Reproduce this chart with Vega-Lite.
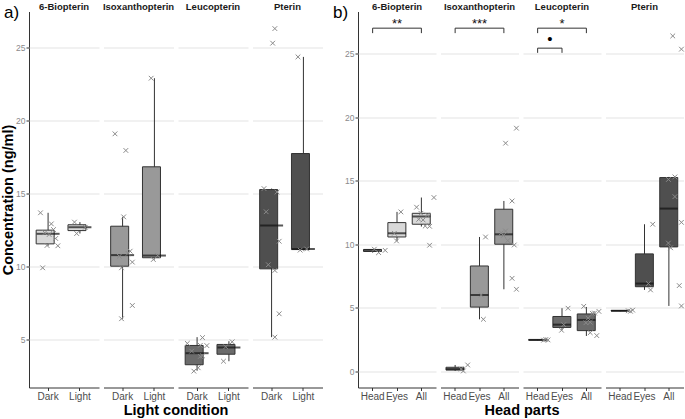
{
  "$schema": "https://vega.github.io/schema/vega-lite/v6.json",
  "padding": {"left": 0, "top": 1.5, "right": 1, "bottom": 0},
  "spacing": 10,
  "config": {
    "font": "Liberation Sans",
    "view": {"stroke": null},
    "axis": {
      "domainColor": "#333333", "domainWidth": 1, "tickColor": "#333333", "tickSize": 3,
      "gridColor": "#e3e3e3", "gridWidth": 1, "labelFont": "Liberation Sans",
      "titleFont": "Liberation Sans", "titleFontWeight": "bold", "titleFontSize": 14.5, "titleColor": "#000000"
    },
    "axisX": {"labelColor": "#4d4d4d", "labelFontSize": 10, "labelAngle": 0, "grid": false, "labelPadding": 1, "labelOverlap": false},
    "axisY": {"labelColor": "#8a8a8a", "labelFontSize": 8.5, "labelPadding": 1, "titlePadding": 0},
    "header": {"labelFontSize": 9.5, "labelFontWeight": "bold", "labelColor": "#1a1a1a", "labelPadding": 0.5, "labelFont": "Liberation Sans",
               "titleOrient": "bottom", "labelOrient": "top", "titleFontSize": 14.5, "titleFontWeight": "bold", "titleColor": "#000000", "titleFont": "Liberation Sans", "titlePadding": -8},
    "facet": {"spacing": 4.5}
  },
  "hconcat": [
    {
      "title": {"text": "a)", "anchor": "start", "frame": "group", "fontSize": 17, "fontWeight": "normal", "offset": -20, "dx": -25, "color": "#000000"},
      "bounds": "flush",
      "data": {"values": [
        {"k":"box","g":"6-Biopterin","c":"Dark","lo":11.42,"q1":11.55,"med":12.24,"q3":12.49,"hi":13.68},
        {"k":"box","g":"6-Biopterin","c":"Light","lo":12.26,"q1":12.46,"med":12.69,"q3":12.86,"hi":13.04},
        {"k":"box","g":"Isoxanthopterin","c":"Dark","lo":6.42,"q1":10.02,"med":10.78,"q3":12.76,"hi":13.4},
        {"k":"box","g":"Isoxanthopterin","c":"Light","lo":10.48,"q1":10.6,"med":10.75,"q3":16.83,"hi":22.9},
        {"k":"box","g":"Leucopterin","c":"Dark","lo":2.86,"q1":3.27,"med":4.06,"q3":4.59,"hi":5.16},
        {"k":"box","g":"Leucopterin","c":"Light","lo":3.51,"q1":3.99,"med":4.45,"q3":4.66,"hi":4.88},
        {"k":"box","g":"Pterin","c":"Dark","lo":5.16,"q1":9.84,"med":12.81,"q3":15.27,"hi":15.34},
        {"k":"box","g":"Pterin","c":"Light","lo":11.1,"q1":11.16,"med":11.2,"q3":17.74,"hi":24.36},
        {"k":"pt","g":"6-Biopterin","c":"Dark","v":13.68,"id":"b"},
        {"k":"pt","g":"6-Biopterin","c":"Dark","v":12.92,"id":"g"},
        {"k":"pt","g":"6-Biopterin","c":"Dark","v":12.53,"id":"h"},
        {"k":"pt","g":"6-Biopterin","c":"Dark","v":12.31,"id":"d"},
        {"k":"pt","g":"6-Biopterin","c":"Dark","v":12.19,"id":"f"},
        {"k":"pt","g":"6-Biopterin","c":"Dark","v":11.92,"id":"i"},
        {"k":"pt","g":"6-Biopterin","c":"Dark","v":11.44,"id":"e"},
        {"k":"pt","g":"6-Biopterin","c":"Dark","v":11.42,"id":"j"},
        {"k":"pt","g":"6-Biopterin","c":"Dark","v":9.91,"id":"c"},
        {"k":"pt","g":"6-Biopterin","c":"Light","v":13.04,"id":"c"},
        {"k":"pt","g":"6-Biopterin","c":"Light","v":12.69,"id":"h"},
        {"k":"pt","g":"6-Biopterin","c":"Light","v":12.26,"id":"d"},
        {"k":"pt","g":"Isoxanthopterin","c":"Dark","v":19.09,"id":"b"},
        {"k":"pt","g":"Isoxanthopterin","c":"Dark","v":17.95,"id":"g"},
        {"k":"pt","g":"Isoxanthopterin","c":"Dark","v":13.4,"id":"f"},
        {"k":"pt","g":"Isoxanthopterin","c":"Dark","v":11.05,"id":"i"},
        {"k":"pt","g":"Isoxanthopterin","c":"Dark","v":10.9,"id":"h"},
        {"k":"pt","g":"Isoxanthopterin","c":"Dark","v":10.7,"id":"d"},
        {"k":"pt","g":"Isoxanthopterin","c":"Dark","v":10.3,"id":"j"},
        {"k":"pt","g":"Isoxanthopterin","c":"Dark","v":9.91,"id":"e"},
        {"k":"pt","g":"Isoxanthopterin","c":"Dark","v":7.33,"id":"j"},
        {"k":"pt","g":"Isoxanthopterin","c":"Dark","v":6.42,"id":"e"},
        {"k":"pt","g":"Isoxanthopterin","c":"Light","v":22.9,"id":"d"},
        {"k":"pt","g":"Isoxanthopterin","c":"Light","v":10.75,"id":"g"},
        {"k":"pt","g":"Isoxanthopterin","c":"Light","v":10.48,"id":"e"},
        {"k":"pt","g":"Leucopterin","c":"Dark","v":5.13,"id":"h"},
        {"k":"pt","g":"Leucopterin","c":"Dark","v":4.73,"id":"a"},
        {"k":"pt","g":"Leucopterin","c":"Dark","v":4.6,"id":"g"},
        {"k":"pt","g":"Leucopterin","c":"Dark","v":4.58,"id":"j"},
        {"k":"pt","g":"Leucopterin","c":"Dark","v":4.2,"id":"c"},
        {"k":"pt","g":"Leucopterin","c":"Dark","v":3.88,"id":"h"},
        {"k":"pt","g":"Leucopterin","c":"Dark","v":3.84,"id":"g"},
        {"k":"pt","g":"Leucopterin","c":"Dark","v":3.06,"id":"f"},
        {"k":"pt","g":"Leucopterin","c":"Dark","v":2.83,"id":"d"},
        {"k":"pt","g":"Leucopterin","c":"Light","v":4.84,"id":"g"},
        {"k":"pt","g":"Leucopterin","c":"Light","v":4.5,"id":"d"},
        {"k":"pt","g":"Leucopterin","c":"Light","v":3.51,"id":"c"},
        {"k":"pt","g":"Pterin","c":"Dark","v":26.3,"id":"g"},
        {"k":"pt","g":"Pterin","c":"Dark","v":25.3,"id":"f"},
        {"k":"pt","g":"Pterin","c":"Dark","v":15.34,"id":"b"},
        {"k":"pt","g":"Pterin","c":"Dark","v":15.1,"id":"h"},
        {"k":"pt","g":"Pterin","c":"Dark","v":13.75,"id":"c"},
        {"k":"pt","g":"Pterin","c":"Dark","v":11.73,"id":"i"},
        {"k":"pt","g":"Pterin","c":"Dark","v":10.12,"id":"d"},
        {"k":"pt","g":"Pterin","c":"Dark","v":9.73,"id":"g"},
        {"k":"pt","g":"Pterin","c":"Dark","v":6.76,"id":"i"},
        {"k":"pt","g":"Pterin","c":"Dark","v":5.16,"id":"g"},
        {"k":"pt","g":"Pterin","c":"Light","v":24.36,"id":"c"},
        {"k":"pt","g":"Pterin","c":"Light","v":11.2,"id":"g"},
        {"k":"pt","g":"Pterin","c":"Light","v":11.12,"id":"d"}
      ]},
      "facet": {"column": {"field": "g", "type": "nominal", "title": "Light condition"}},
      "spec": {
        "width": 70, "height": 376,
        "encoding": {
          "x": {"field": "c", "type": "nominal", "title": null,
                "scale": {"domain": ["Dark", "Light"], "paddingInner": 0.25, "paddingOuter": 0.225}},
          "y": {"type": "quantitative"}
        },
        "layer": [
          {"transform": [{"filter": "datum.k == 'box'"}],
           "mark": {"type": "rule", "color": "#333333", "strokeWidth": 1},
           "encoding": {"y": {"field": "lo", "type": "quantitative",
              "scale": {"domain": [1.71, 27.47], "nice": false, "zero": false},
              "axis": {"values": [5, 10, 15, 20, 25], "title": "Concentration (ng/ml)"}},
              "y2": {"field": "hi"}}},
          {"transform": [{"filter": "datum.k == 'box'"}],
           "mark": {"type": "bar", "stroke": "#333333", "strokeWidth": 1},
           "encoding": {"y": {"field": "q1", "type": "quantitative"}, "y2": {"field": "q3"},
              "fill": {"field": "g", "type": "nominal", "legend": null,
                "scale": {"domain": ["6-Biopterin","Isoxanthopterin","Leucopterin","Pterin"], "range": ["#d9d9d9","#999999","#6b6b6b","#4f4f4f"]}}}},
          {"transform": [{"filter": "datum.k == 'box'"}],
           "mark": {"type": "tick", "color": "#111111", "size": 23, "thickness": 2},
           "encoding": {"y": {"field": "med", "type": "quantitative"}}},
          {"transform": [{"filter": "datum.k == 'pt'"}],
           "mark": {"type": "point", "shape": "M-1,-1L1,1M-1,1L1,-1", "filled": false, "stroke": "#8a8a8a", "strokeWidth": 1, "size": 22, "opacity": 1},
           "encoding": {"y": {"field": "v", "type": "quantitative"},
              "xOffset": {"field": "id", "type": "nominal", "scale": {"domain": ["a","b","c","d","e","f","g","h","i","j"], "paddingInner": 0, "paddingOuter": 2}}}}
        ]
      }
    },
    {
      "title": {"text": "b)", "anchor": "start", "frame": "group", "fontSize": 17, "fontWeight": "normal", "offset": -20, "dx": -25, "color": "#000000"},
      "bounds": "flush",
      "data": {"values": [
        {"k":"box","g":"6-Biopterin","c":"Head","lo":9.35,"q1":9.44,"med":9.53,"q3":9.6,"hi":9.62},
        {"k":"box","g":"6-Biopterin","c":"Eyes","lo":10.27,"q1":10.58,"med":10.87,"q3":11.71,"hi":12.55},
        {"k":"box","g":"6-Biopterin","c":"All","lo":11.4,"q1":11.58,"med":12.19,"q3":12.44,"hi":13.68},
        {"k":"box","g":"Isoxanthopterin","c":"Head","lo":0.05,"q1":0.12,"med":0.2,"q3":0.34,"hi":0.52},
        {"k":"box","g":"Isoxanthopterin","c":"Eyes","lo":4.11,"q1":5.07,"med":6.02,"q3":8.3,"hi":10.58},
        {"k":"box","g":"Isoxanthopterin","c":"All","lo":6.47,"q1":10.01,"med":10.79,"q3":12.76,"hi":13.41},
        {"k":"box","g":"Leucopterin","c":"Head","lo":2.46,"q1":2.48,"med":2.49,"q3":2.5,"hi":2.52},
        {"k":"box","g":"Leucopterin","c":"Eyes","lo":3.25,"q1":3.47,"med":3.69,"q3":4.33,"hi":4.98},
        {"k":"box","g":"Leucopterin","c":"All","lo":2.8,"q1":3.22,"med":4.06,"q3":4.53,"hi":5.08},
        {"k":"box","g":"Pterin","c":"Head","lo":4.74,"q1":4.76,"med":4.78,"q3":4.8,"hi":4.83},
        {"k":"box","g":"Pterin","c":"Eyes","lo":6.42,"q1":6.67,"med":6.92,"q3":9.25,"hi":11.58},
        {"k":"box","g":"Pterin","c":"All","lo":5.16,"q1":9.8,"med":12.81,"q3":15.25,"hi":15.3},
        {"k":"pt","g":"6-Biopterin","c":"Head","v":9.62,"id":"e"},
        {"k":"pt","g":"6-Biopterin","c":"Head","v":9.35,"id":"g"},
        {"k":"pt","g":"6-Biopterin","c":"Head","v":9.53,"id":"j"},
        {"k":"pt","g":"6-Biopterin","c":"Eyes","v":12.55,"id":"f"},
        {"k":"pt","g":"6-Biopterin","c":"Eyes","v":10.87,"id":"c"},
        {"k":"pt","g":"6-Biopterin","c":"Eyes","v":10.27,"id":"d"},
        {"k":"pt","g":"6-Biopterin","c":"All","v":13.68,"id":"j"},
        {"k":"pt","g":"6-Biopterin","c":"All","v":12.92,"id":"b"},
        {"k":"pt","g":"6-Biopterin","c":"All","v":12.44,"id":"d"},
        {"k":"pt","g":"6-Biopterin","c":"All","v":12.3,"id":"g"},
        {"k":"pt","g":"6-Biopterin","c":"All","v":11.97,"id":"c"},
        {"k":"pt","g":"6-Biopterin","c":"All","v":11.92,"id":"e"},
        {"k":"pt","g":"6-Biopterin","c":"All","v":11.44,"id":"f"},
        {"k":"pt","g":"6-Biopterin","c":"All","v":11.42,"id":"h"},
        {"k":"pt","g":"6-Biopterin","c":"All","v":9.93,"id":"h"},
        {"k":"pt","g":"Isoxanthopterin","c":"Head","v":0.52,"id":"j"},
        {"k":"pt","g":"Isoxanthopterin","c":"Head","v":0.2,"id":"g"},
        {"k":"pt","g":"Isoxanthopterin","c":"Head","v":0.05,"id":"h"},
        {"k":"pt","g":"Isoxanthopterin","c":"Eyes","v":10.58,"id":"g"},
        {"k":"pt","g":"Isoxanthopterin","c":"Eyes","v":6.02,"id":"e"},
        {"k":"pt","g":"Isoxanthopterin","c":"Eyes","v":4.11,"id":"f"},
        {"k":"pt","g":"Isoxanthopterin","c":"All","v":19.13,"id":"j"},
        {"k":"pt","g":"Isoxanthopterin","c":"All","v":17.95,"id":"e"},
        {"k":"pt","g":"Isoxanthopterin","c":"All","v":13.41,"id":"h"},
        {"k":"pt","g":"Isoxanthopterin","c":"All","v":11.05,"id":"e"},
        {"k":"pt","g":"Isoxanthopterin","c":"All","v":10.9,"id":"c"},
        {"k":"pt","g":"Isoxanthopterin","c":"All","v":10.7,"id":"d"},
        {"k":"pt","g":"Isoxanthopterin","c":"All","v":10.3,"id":"f"},
        {"k":"pt","g":"Isoxanthopterin","c":"All","v":9.95,"id":"i"},
        {"k":"pt","g":"Isoxanthopterin","c":"All","v":7.33,"id":"h"},
        {"k":"pt","g":"Isoxanthopterin","c":"All","v":6.47,"id":"j"},
        {"k":"pt","g":"Leucopterin","c":"Head","v":2.47,"id":"g"},
        {"k":"pt","g":"Leucopterin","c":"Head","v":2.49,"id":"i"},
        {"k":"pt","g":"Leucopterin","c":"Head","v":2.52,"id":"h"},
        {"k":"pt","g":"Leucopterin","c":"Eyes","v":4.98,"id":"g"},
        {"k":"pt","g":"Leucopterin","c":"Eyes","v":3.69,"id":"e"},
        {"k":"pt","g":"Leucopterin","c":"Eyes","v":3.25,"id":"d"},
        {"k":"pt","g":"Leucopterin","c":"All","v":5.13,"id":"c"},
        {"k":"pt","g":"Leucopterin","c":"All","v":4.73,"id":"j"},
        {"k":"pt","g":"Leucopterin","c":"All","v":4.6,"id":"h"},
        {"k":"pt","g":"Leucopterin","c":"All","v":4.58,"id":"g"},
        {"k":"pt","g":"Leucopterin","c":"All","v":4.2,"id":"e"},
        {"k":"pt","g":"Leucopterin","c":"All","v":3.88,"id":"f"},
        {"k":"pt","g":"Leucopterin","c":"All","v":3.84,"id":"d"},
        {"k":"pt","g":"Leucopterin","c":"All","v":3.06,"id":"f"},
        {"k":"pt","g":"Leucopterin","c":"All","v":2.83,"id":"i"},
        {"k":"pt","g":"Pterin","c":"Head","v":4.74,"id":"i"},
        {"k":"pt","g":"Pterin","c":"Head","v":4.78,"id":"h"},
        {"k":"pt","g":"Pterin","c":"Head","v":4.83,"id":"j"},
        {"k":"pt","g":"Pterin","c":"Eyes","v":11.58,"id":"h"},
        {"k":"pt","g":"Pterin","c":"Eyes","v":6.92,"id":"f"},
        {"k":"pt","g":"Pterin","c":"Eyes","v":6.42,"id":"g"},
        {"k":"pt","g":"Pterin","c":"All","v":26.38,"id":"f"},
        {"k":"pt","g":"Pterin","c":"All","v":25.34,"id":"j"},
        {"k":"pt","g":"Pterin","c":"All","v":15.3,"id":"g"},
        {"k":"pt","g":"Pterin","c":"All","v":15.1,"id":"d"},
        {"k":"pt","g":"Pterin","c":"All","v":13.75,"id":"g"},
        {"k":"pt","g":"Pterin","c":"All","v":11.73,"id":"j"},
        {"k":"pt","g":"Pterin","c":"All","v":10.1,"id":"d"},
        {"k":"pt","g":"Pterin","c":"All","v":9.73,"id":"e"},
        {"k":"pt","g":"Pterin","c":"All","v":6.76,"id":"i"},
        {"k":"pt","g":"Pterin","c":"All","v":5.16,"id":"j"},
        {"k":"br","g":"6-Biopterin","c":"Head","c2":"All","y1":26.99},
        {"k":"br","g":"Isoxanthopterin","c":"Head","c2":"All","y1":26.99},
        {"k":"br","g":"Leucopterin","c":"Head","c2":"All","y1":26.99},
        {"k":"br","g":"Leucopterin","c":"Head","c2":"Eyes","y1":25.42},
        {"k":"arm","g":"6-Biopterin","c":"Head","y1":26.99,"y2":26.6},
        {"k":"arm","g":"6-Biopterin","c":"All","y1":26.99,"y2":26.6},
        {"k":"arm","g":"Isoxanthopterin","c":"Head","y1":26.99,"y2":26.6},
        {"k":"arm","g":"Isoxanthopterin","c":"All","y1":26.99,"y2":26.6},
        {"k":"arm","g":"Leucopterin","c":"Head","y1":26.99,"y2":26.6},
        {"k":"arm","g":"Leucopterin","c":"All","y1":26.99,"y2":26.6},
        {"k":"arm","g":"Leucopterin","c":"Head","y1":25.42,"y2":25.05},
        {"k":"arm","g":"Leucopterin","c":"Eyes","y1":25.42,"y2":25.05},
        {"k":"lab","g":"6-Biopterin","c":"Eyes","y1":27.03,"lab":"**"},
        {"k":"lab","g":"Isoxanthopterin","c":"Eyes","y1":27.03,"lab":"***"},
        {"k":"lab","g":"Leucopterin","c":"Eyes","y1":27.03,"lab":"*"},
        {"k":"dot","g":"Leucopterin","c":"Eyes","y1":25.72,"lab":"•"}
      ]},
      "facet": {"column": {"field": "g", "type": "nominal", "title": "Head parts"}},
      "spec": {
        "width": 78, "height": 376,
        "encoding": {
          "x": {"field": "c", "type": "nominal", "title": null,
                "scale": {"domain": ["Head", "Eyes", "All"], "paddingInner": 0.25, "paddingOuter": 0.225}},
          "y": {"type": "quantitative"}
        },
        "layer": [
          {"transform": [{"filter": "datum.k == 'box'"}],
           "mark": {"type": "rule", "color": "#333333", "strokeWidth": 1},
           "encoding": {"y": {"field": "lo", "type": "quantitative",
              "scale": {"domain": [-1.25, 28.3], "nice": false, "zero": false},
              "axis": {"values": [0, 5, 10, 15, 20, 25], "title": null}},
              "y2": {"field": "hi"}}},
          {"transform": [{"filter": "datum.k == 'box'"}],
           "mark": {"type": "bar", "stroke": "#333333", "strokeWidth": 1},
           "encoding": {"y": {"field": "q1", "type": "quantitative"}, "y2": {"field": "q3"},
              "fill": {"field": "g", "type": "nominal", "legend": null,
                "scale": {"domain": ["6-Biopterin","Isoxanthopterin","Leucopterin","Pterin"], "range": ["#d9d9d9","#999999","#6b6b6b","#4f4f4f"]}}}},
          {"transform": [{"filter": "datum.k == 'box'"}],
           "mark": {"type": "tick", "color": "#111111", "size": 18, "thickness": 2},
           "encoding": {"y": {"field": "med", "type": "quantitative"}}},
          {"transform": [{"filter": "datum.k == 'pt'"}],
           "mark": {"type": "point", "shape": "M-1,-1L1,1M-1,1L1,-1", "filled": false, "stroke": "#8a8a8a", "strokeWidth": 1, "size": 22, "opacity": 1},
           "encoding": {"y": {"field": "v", "type": "quantitative"},
              "xOffset": {"field": "id", "type": "nominal", "scale": {"domain": ["a","b","c","d","e","f","g","h","i","j"], "paddingInner": 0, "paddingOuter": 2}}}},
          {"transform": [{"filter": "datum.k == 'br'"}],
           "mark": {"type": "rule", "color": "#333333", "strokeWidth": 1},
           "encoding": {"x": {"field": "c", "type": "nominal", "bandPosition": 0.5},
              "x2": {"field": "c2", "bandPosition": 0.5},
              "y": {"field": "y1", "type": "quantitative"}}},
          {"transform": [{"filter": "datum.k == 'arm'"}],
           "mark": {"type": "rule", "color": "#333333", "strokeWidth": 1},
           "encoding": {"y": {"field": "y1", "type": "quantitative"}, "y2": {"field": "y2"}}},
          {"transform": [{"filter": "datum.k == 'lab'"}],
           "mark": {"type": "text", "fontSize": 13, "baseline": "alphabetic", "color": "#111111"},
           "encoding": {"y": {"field": "y1", "type": "quantitative"}, "text": {"field": "lab"}}},
          {"transform": [{"filter": "datum.k == 'dot'"}],
           "mark": {"type": "text", "fontSize": 15, "baseline": "alphabetic", "color": "#000000"},
           "encoding": {"x": {"field": "c", "type": "nominal", "bandPosition": -0.1667},
              "y": {"field": "y1", "type": "quantitative"}, "text": {"field": "lab"}}}
        ]
      }
    }
  ]
}
